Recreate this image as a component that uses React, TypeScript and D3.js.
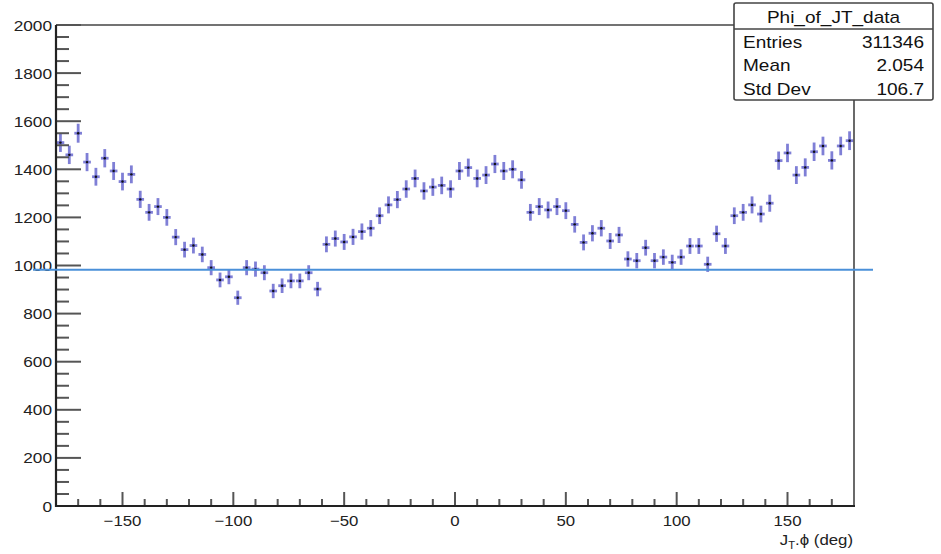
import React from "react";
import * as d3 from "d3";

// Histogram: Phi_of_JT_data, 90 bins of 4 deg from -180 to 180
const binEdgesDomain = [-180, 180];
const binWidth = 4;
const counts = [
  1511, 1460, 1550, 1430, 1369, 1446, 1393, 1349, 1379, 1275,
  1221, 1245, 1200, 1118, 1066, 1083, 1046, 991, 940, 953,
  866, 991, 985, 970, 894, 916, 936, 936, 970, 902,
  1088, 1112, 1098, 1119, 1141, 1155, 1207, 1252, 1274, 1318,
  1362, 1310, 1326, 1333, 1318, 1393, 1407, 1362, 1376, 1422,
  1393, 1400, 1356, 1221, 1245, 1231, 1245, 1228, 1171, 1096,
  1134, 1155, 1102, 1127, 1027, 1020, 1074, 1020, 1035, 1013,
  1035, 1081, 1081, 1005, 1132, 1081, 1207, 1221, 1252, 1214,
  1259, 1436, 1468, 1376, 1408, 1473, 1497, 1437, 1497, 1519,
];
const fitLevel = 982;

const xTickMajor = [-150, -100, -50, 0, 50, 100, 150];
const yTickMajor = [0, 200, 400, 600, 800, 1000, 1200, 1400, 1600, 1800, 2000];

const statTitle = "Phi_of_JT_data";
const statLabels = ["Entries", "Mean", "Std Dev"];
const statValues = ["311346", "2.054", "106.7"];

const FONT = "'Liberation Sans', Arial, Helvetica, sans-serif";

export default function App() {
  const left = 56, right = 854, top = 25, bottom = 506;
  const x = d3.scaleLinear().domain(binEdgesDomain).range([left, right]);
  const y = d3.scaleLinear().domain([0, 2000]).range([bottom, top]);

  const xMinor = d3.range(-170, 171, 10).filter((v) => v % 50 !== 0);
  const yMinor = d3.range(0, 2001, 50).filter((v) => v % 200 !== 0);
  const fmt = (v: number) => String(v).replace("-", "\u2212");

  const tickColor = "#555";
  const barColor = "#5f5fcc";

  const bx = 734, by = 3, bw = 199, bh = 97;

  return (
    <svg
      width={941}
      height={554}
      style={{ position: "absolute", left: 0, top: 0, background: "#fff" }}
      fontFamily={FONT}
    >
      <rect x={0} y={0} width={941} height={554} fill="#fff" />

      {/* error bars */}
      <g>
        {counts.map((c, i) => {
          const lo = binEdgesDomain[0] + i * binWidth;
          const cx = x(lo + binWidth / 2);
          const cy = y(c);
          const err = Math.sqrt(c);
          return (
            <g key={i}>
              <line x1={cx} x2={cx} y1={y(c - err)} y2={y(c + err)} stroke={barColor} strokeWidth={2.8} strokeOpacity={0.8} />
              <line x1={x(lo) + 0.6} x2={x(lo + binWidth) - 0.6} y1={cy} y2={cy} stroke={barColor} strokeWidth={2.8} strokeOpacity={0.8} />
              <circle cx={cx} cy={cy} r={1.2} fill="#111" />
            </g>
          );
        })}
      </g>

      {/* frame */}
      <line x1={left} x2={bx} y1={top} y2={top} stroke="#444" strokeWidth={1.6} />
      <line x1={right} x2={right} y1={by + bh} y2={bottom} stroke="#444" strokeWidth={1.6} />

      {/* y ticks */}
      {yTickMajor.map((v) => (
        <line key={"ym" + v} x1={left} x2={left + 25} y1={y(v)} y2={y(v)} stroke={tickColor} strokeWidth={2} />
      ))}
      {yMinor.map((v) => (
        <line key={"yn" + v} x1={left} x2={left + 13} y1={y(v)} y2={y(v)} stroke={tickColor} strokeWidth={2} />
      ))}
      {/* x ticks */}
      {xTickMajor.map((v) => (
        <line key={"xm" + v} x1={x(v)} x2={x(v)} y1={bottom} y2={bottom - 14} stroke={tickColor} strokeWidth={2} />
      ))}
      {xMinor.map((v) => (
        <line key={"xn" + v} x1={x(v)} x2={x(v)} y1={bottom} y2={bottom - 7} stroke={tickColor} strokeWidth={2} />
      ))}

      {/* axes lines */}
      <line x1={left} x2={left} y1={top} y2={bottom + 1} stroke="#222" strokeWidth={2.2} />
      <line x1={left - 1} x2={right + 1} y1={bottom} y2={bottom} stroke="#222" strokeWidth={2.2} />

      {/* y labels */}
      {yTickMajor.map((v) => (
        <text
          key={"yl" + v}
          transform={`translate(52,${y(v) + 5.5}) scale(1.15,1)`}
          textAnchor="end"
          fontSize={15}
          fill="#222"
        >
          {fmt(v)}
        </text>
      ))}
      {/* x labels */}
      {xTickMajor.map((v) => (
        <text
          key={"xl" + v}
          transform={`translate(${x(v)},526) scale(1.12,1)`}
          textAnchor="middle"
          fontSize={15}
          fill="#222"
        >
          {fmt(v)}
        </text>
      ))}

      {/* x axis title */}
      <text transform="translate(853,545) scale(1.12,1)" textAnchor="end" fontSize={15} fill="#222">
        J<tspan fontSize={10} dy={3.5}>T</tspan>
        <tspan dy={-3.5}>.ϕ (deg)</tspan>
      </text>

      {/* fit level line */}
      <line x1={33} x2={873} y1={y(fitLevel)} y2={y(fitLevel)} stroke="#4a90d9" strokeWidth={2} />

      {/* stat box */}
      <rect x={bx} y={by} width={bw} height={bh} rx={2} fill="#fff" stroke="#444" strokeWidth={1.6} />
      <line x1={bx} x2={bx + bw} y1={29} y2={29} stroke="#444" strokeWidth={1.4} />
      <text transform={`translate(${bx + bw / 2},22.5) scale(1.12,1)`} textAnchor="middle" fontSize={17} fill="#111">
        {statTitle}
      </text>
      {statLabels.map((s, i) => (
        <text key={"sl" + i} transform={`translate(743,${48 + i * 23.4}) scale(1.12,1)`} fontSize={17} fill="#111">
          {s}
        </text>
      ))}
      {statValues.map((s, i) => (
        <text key={"sv" + i} transform={`translate(924,${48 + i * 23.4}) scale(1.12,1)`} textAnchor="end" fontSize={17} fill="#111">
          {s}
        </text>
      ))}
    </svg>
  );
}
